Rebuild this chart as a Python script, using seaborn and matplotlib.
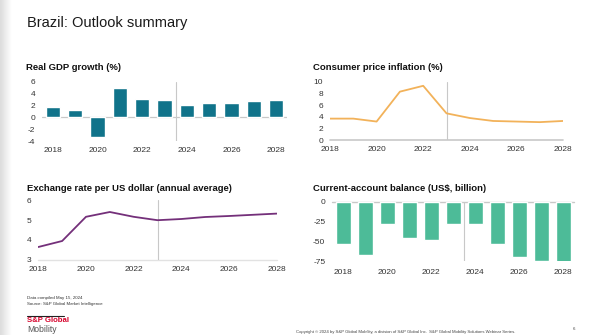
import numpy as np
import pandas as pd
import matplotlib
matplotlib.use("Agg")
import matplotlib.pyplot as plt
import seaborn as sns

# ---- data ----
years = [2018, 2019, 2020, 2021, 2022, 2023, 2024, 2025, 2026, 2027, 2028]
gdp_growth = [1.8, 1.2, -3.3, 5.0, 3.0, 2.9, 2.1, 2.4, 2.4, 2.75, 2.9]
cpi_inflation = [3.7, 3.7, 3.2, 8.3, 9.3, 4.6, 3.8, 3.3, 3.2, 3.1, 3.3]
exchange_rate = [3.65, 3.95, 5.16, 5.40, 5.16, 4.99, 5.05, 5.15, 5.20, 5.26, 5.32]
current_account = [-54, -68, -28, -46, -48, -28, -28, -54, -70, -75, -76]
xtick_years = [2018, 2020, 2022, 2024, 2026, 2028]

sns.set_theme(style="white")
plt.rcParams['font.family'] = ['Liberation Sans', 'DejaVu Sans']
plt.rcParams['axes.unicode_minus'] = False

W, H = 602, 335
fig = plt.figure(figsize=(W / 100, H / 100), dpi=100)
fig.patch.set_facecolor("white")

def px_axes(left, top, right, bottom):
    return fig.add_axes([left / W, 1 - bottom / H, (right - left) / W, (bottom - top) / H])

# left gradient strip
gax = fig.add_axes([0, 0, 12 / W, 1])
grad = np.linspace(0.86, 1.0, 64)[None, :]
gax.imshow(np.repeat(grad, 2, axis=0), cmap="gray", vmin=0, vmax=1, aspect="auto",
           extent=[0, 1, 0, 1])
gax.axis("off")

GRID = "#c8c8c8"
TICK = "#333333"
FS = 6

def style(ax):
    for s in ax.spines.values():
        s.set_visible(False)
    ax.tick_params(axis="both", length=0, labelsize=FS, colors=TICK)
    ax.set_xlabel("")
    ax.set_ylabel("")
    ax.set_facecolor("white")

df = pd.DataFrame({"year": [str(y) for y in years], "yr": years,
                   "gdp": gdp_growth, "cpi": cpi_inflation,
                   "fx": exchange_rate, "ca": current_account})

# ---- Panel 1: GDP ----
ax1 = px_axes(41.7, 81.7, 287.4, 141)
ax1.axhline(0, color=GRID, lw=0.9, zorder=0)
ax1.axvline(5.5, color=GRID, lw=0.8, zorder=0)
sns.barplot(data=df, x="year", y="gdp", color="#10738a", saturation=1, width=0.65, ax=ax1)
ax1.set_xlim(-0.5, 10.5)
ax1.set_ylim(-4, 6)
style(ax1)
ax1.set_yticks([-4, -2, 0, 2, 4, 6])
ax1.set_xticks([years.index(y) for y in xtick_years])
ax1.set_xticklabels([str(y) for y in xtick_years])
ax1.tick_params(axis="x", pad=4.5)
ax1.tick_params(axis="y", pad=4.8)

# ---- Panel 2: CPI ----
ax2 = px_axes(330, 81.7, 563, 140.3)
sns.lineplot(data=df, x="yr", y="cpi", color="#f2b25a", lw=1.3, ax=ax2)
ax2.set_xlim(2018, 2028)
ax2.set_ylim(0, 10)
ax2.axhline(0, color=GRID, lw=1.2, zorder=0, clip_on=False)
ax2.axvline(2023, color=GRID, lw=0.8, zorder=0)
style(ax2)
ax2.set_yticks([0, 2, 4, 6, 8, 10])
ax2.set_xticks(xtick_years)
ax2.set_xticklabels([str(y) for y in xtick_years])
ax2.tick_params(axis="x", pad=4)
ax2.tick_params(axis="y", pad=5)

# ---- Panel 3: Exchange rate ----
ax3 = px_axes(38.3, 200, 276.7, 260)
sns.lineplot(data=df, x="yr", y="fx", color="#74307a", lw=1.3, ax=ax3)
ax3.set_xlim(2018, 2028)
ax3.set_ylim(3, 6)
ax3.axhline(3, color="#e2e2e2", lw=1.0, zorder=0, clip_on=False)
ax3.axvline(2023, color=GRID, lw=0.8, zorder=0)
style(ax3)
ax3.set_yticks([3, 4, 5, 6])
ax3.set_xticks(xtick_years)
ax3.set_xticklabels([str(y) for y in xtick_years])
ax3.tick_params(axis="x", pad=4.5)
ax3.tick_params(axis="y", pad=4.8)

# ---- Panel 4: Current account ----
ax4 = px_axes(332.3, 201.7, 574.3, 261)
ax4.axhline(0, color=GRID, lw=1.0, zorder=0, clip_on=False)
ax4.axvline(5.5, color=GRID, lw=0.8, zorder=0)
sns.barplot(data=df, x="year", y="ca", color="#4dbb98", saturation=1, width=0.67, ax=ax4)
ax4.set_xlim(-0.5, 10.5)
ax4.set_ylim(-75, 0)
style(ax4)
ax4.set_yticks([-75, -50, -25, 0])
ax4.set_xticks([years.index(y) for y in xtick_years])
ax4.set_xticklabels([str(y) for y in xtick_years])
ax4.tick_params(axis="x", pad=5.5)
ax4.tick_params(axis="y", pad=5)

# ---- titles ----
fig.text(27 / W, 1 - 22.5 / H, "Brazil: Outlook summary", fontsize=10.5,
         color="#1a1a1a", va="center", ha="left")
ptitle = dict(fontsize=6.8, fontweight="bold", color="#111111", va="center", ha="left")
fig.text(26 / W, 1 - 68 / H, "Real GDP growth (%)", **ptitle)
fig.text(313 / W, 1 - 68 / H, "Consumer price inflation (%)", **ptitle)
fig.text(27 / W, 1 - 188.5 / H, "Exchange rate per US dollar (annual average)", **ptitle)
fig.text(313 / W, 1 - 188.5 / H, "Current-account balance (US$, billion)", **ptitle)

# ---- footer ----
fig.text(27 / W, 1 - 297.5 / H, "Data compiled May 15, 2024", fontsize=3.2,
         color="#333333", va="center")
fig.text(27 / W, 1 - 304 / H, "Source: S&P Global Market Intelligence", fontsize=3.2,
         color="#333333", va="center")
fig.add_artist(plt.Line2D([27 / W, 64 / W], [1 - 315.5 / H, 1 - 315.5 / H],
                          color="#222222", lw=0.8))
fig.text(27 / W, 1 - 321 / H, "S&P Global", fontsize=5.6, fontweight="bold",
         color="#d6002a", va="center")
fig.text(27 / W, 1 - 329.5 / H, "Mobility", fontsize=6.2, color="#555555", va="center")
fig.text(296 / W, 1 - 332 / H,
         "Copyright \u00a9 2024 by S&P Global Mobility, a division of S&P Global Inc.  "
         "S&P Global Mobility Solutions Webinar Series.",
         fontsize=3.1, color="#444444", va="center")
fig.text(573 / W, 1 - 329 / H, "6", fontsize=3.2, color="#444444", va="center")

fig.savefig("out.png", dpi=100, facecolor="white")
